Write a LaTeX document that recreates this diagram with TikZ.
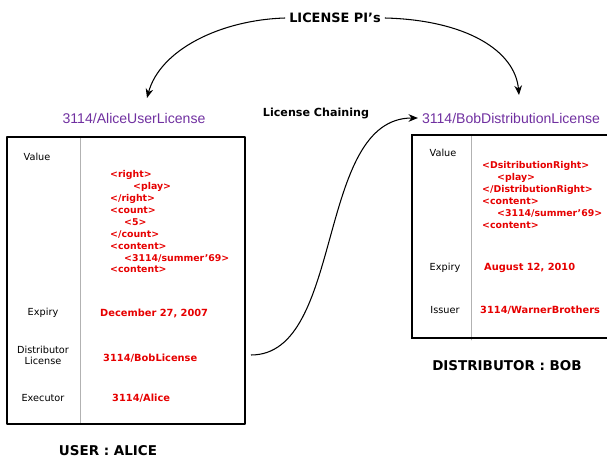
\documentclass[tikz,border=0pt]{standalone}
\usepackage{fontspec}
\usepackage{tkz-euclide}
\usetikzlibrary{arrows.meta}
\setmainfont{DejaVu Sans}
\newfontfamily\titlefont{Liberation Sans}
\definecolor{licpurple}{RGB}{112,48,160}
\definecolor{licred}{RGB}{230,0,0}
\tikzset{>={Stealth[length=8pt,width=6.5pt]}}
\tikzset{
    head/.style={font=\bfseries\fontsize{11.5}{13}\selectfont},
    title/.style={text=licpurple,font=\titlefont\fontsize{12}{14}\selectfont},
    field/.style={font=\fontsize{8.3}{9.5}\selectfont,align=center},
    entry/.style={text=licred,font=\bfseries\fontsize{8.4}{10.2}\selectfont,anchor=west,inner sep=0pt},
    xml/.style={entry,font=\bfseries\fontsize{8}{10.2}\selectfont,anchor=north west,align=left},
    link/.style={->,line width=0.9pt}
}

\begin{document}
\begin{tikzpicture}[x=0.03cm,y=-0.03cm]
    \useasboundingbox (0,0) rectangle (607,461);
    \tkzDefPoints{7/137/A1, 245/137/A2, 245/424/A3, 7/424/A4, 80/137/A5, 80/424/A6}
    \tkzDefPoints{607/135/B1, 412/135/B2, 412/338/B3, 607/338/B4, 471/135/B5, 471/340/B6}
    \tkzDrawSegment[gray!60,line width=0.8pt](A5,A6)
    \tkzDrawSegment[gray!60,line width=0.8pt](B5,B6)
    \tkzDrawPolygon[line width=1pt](A1,A2,A3,A4)
    \tkzDrawPolySeg[line width=1pt](B1,B2,B3,B4)
    \node[head,font=\bfseries\fontsize{11}{13}\selectfont] (pi) at (335,18) {LICENSE PI's};
    \node[title] (alice) at (134,118) {3114/AliceUserLicense};
    \node[title] (bob) at (511,118) {3114/BobDistributionLicense};
    \node[head,font=\bfseries\fontsize{9.5}{11}\selectfont] (chain) at (316,113) {License Chaining};
    \node[head,inner sep=1pt] (user) at (108,451) {USER : ALICE};
    \node[head] (dist) at (507,366) {DISTRIBUTOR : BOB};
    \node[field] (aval) at (37,157) {Value};
    \node[field] (aexp) at (43,313) {Expiry};
    \node[field] (adist) at (43,355) {Distributor\\License};
    \node[field] (aexe) at (43,398) {Executor};
    \node[xml] (axml) at (110,170) {<right>\\\hspace*{0.69cm}<play>\\</right>\\<count>\\\hspace*{0.42cm}<5>\\</count>\\<content>\\\hspace*{0.42cm}<3114/summer'69>\\<content>};
    \node[entry] (aexpv) at (100,313) {December 27, 2007};
    \node[entry] (alic) at (103,358) {3114/BobLicense};
    \node[entry] (aexev) at (112,398) {3114/Alice};
    \node[field] (bval) at (443,153) {Value};
    \node[field] (bexp) at (445,268) {Expiry};
    \node[field] (biss) at (445,310) {Issuer};
    \node[xml] (bxml) at (482,161) {<DsitributionRight>\\\hspace*{0.45cm}<play>\\</DistributionRight>\\<content>\\\hspace*{0.45cm}<3114/summer'69>\\<content>};
    \node[entry] (bexpv) at (484,268) {August 12, 2010};
    \node[entry] (bissv) at (480,310) {3114/WarnerBrothers};
    \coordinate (a1) at (147,98);
    \coordinate (b1) at (519,95);
    \coordinate (c1) at (251,355);
    \draw[link] (pi.west) .. controls (220,20) and (160,50) .. (a1);
    \draw[link] (pi.east) .. controls (465,20) and (515,50) .. (b1);
    \draw[link] (c1) .. controls (345,355) and (315,118) .. (bob.west);
\end{tikzpicture}
\end{document}
